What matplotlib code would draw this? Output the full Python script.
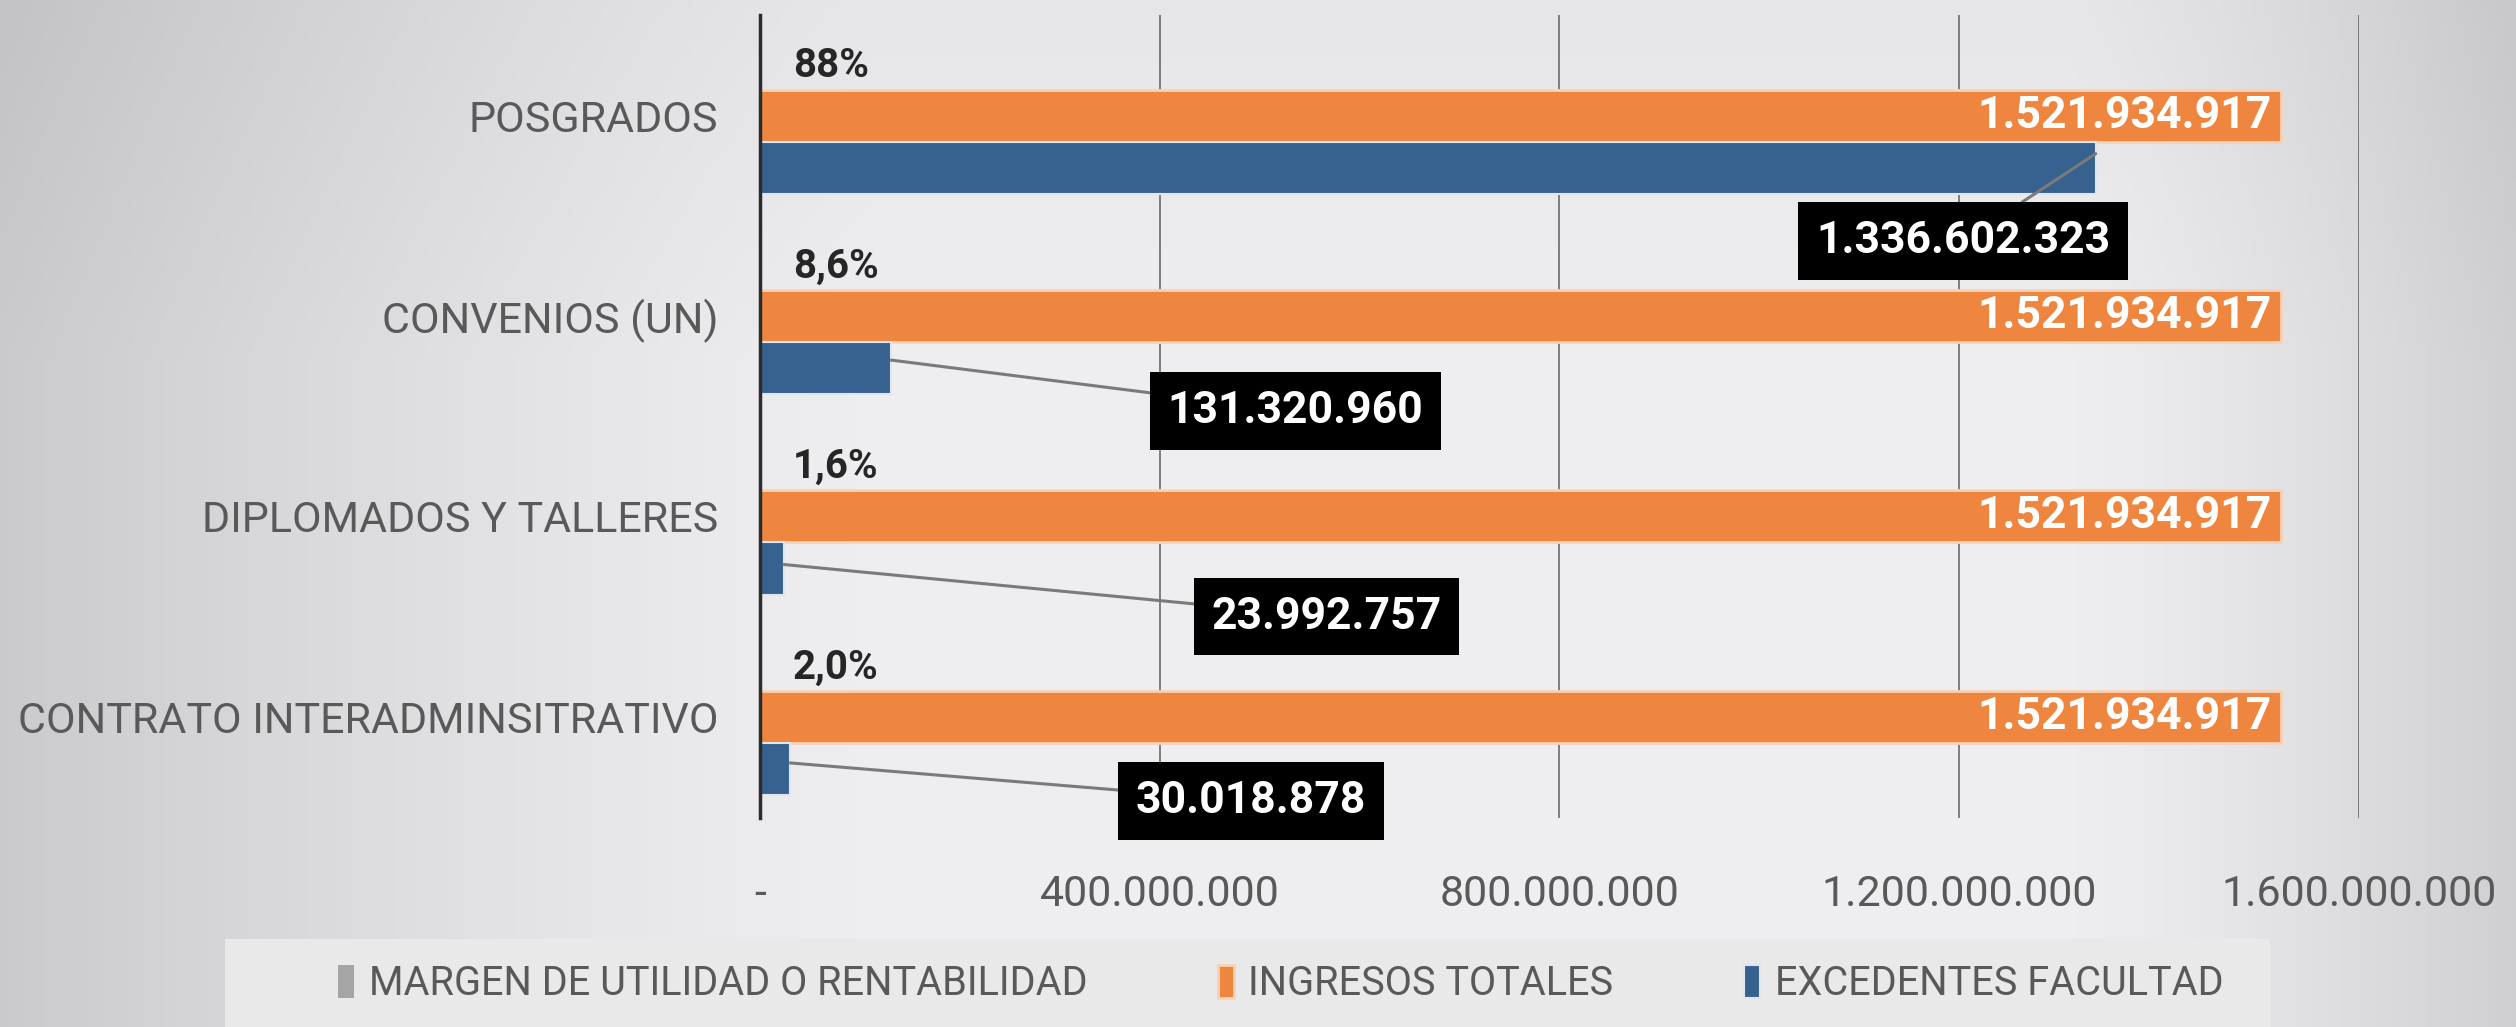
import matplotlib
matplotlib.use("Agg")
import matplotlib.pyplot as plt
import numpy as np
from matplotlib.ticker import FuncFormatter, FixedLocator
from matplotlib.patches import Rectangle

plt.rcParams["font.family"] = ["Roboto", "DejaVu Sans"]

categories = [
    "POSGRADOS",
    "CONVENIOS (UN)",
    "DIPLOMADOS Y TALLERES",
    "CONTRATO INTERADMINSITRATIVO",
]
margen = [0.878, 0.086, 0.016, 0.020]
margen_labels = ["88%", "8,6%", "1,6%", "2,0%"]
ingresos = [1521934917, 1521934917, 1521934917, 1521934917]
excedentes = [1336602323, 131320960, 23992757, 30018878]
x_ticks = [0, 400000000, 800000000, 1200000000, 1600000000]

GRAY = "#a5a5a5"
ORANGE = "#ee8640"
BLUE = "#37628f"
TXT = "#595959"


def fmt(v):
    return f"{v:,.0f}".replace(",", ".")


fig = plt.figure(figsize=(25.16, 10.27), dpi=100)

# background gradient (light in the middle, darker towards the edges)
bg = fig.add_axes([0, 0, 1, 1], zorder=-10)
gx = np.linspace(0, 1, 400)
shade = 0.935 - 0.14 * np.clip((0.35 - gx) / 0.35, 0, 1) ** 1.3 - 0.12 * np.clip((gx - 0.82) / 0.18, 0, 1) ** 1.3
gy = np.linspace(0, 1, 200)[:, None]
img = shade[None, :] - 0.03 * np.clip((0.35 - gy) / 0.35, 0, 1)
bg.imshow(np.dstack([img, img, img * 1.012]).clip(0, 1), aspect="auto", extent=[0, 1, 0, 1])
bg.axis("off")
bg.add_patch(Rectangle((140 / 1568, -0.05), (1415 - 140) / 1568, (640 - 585) / 640 + 0.05,
                       facecolor="#e9e9e9", edgecolor="none"))

ax = fig.add_axes([0.302, 0.2035, 0.9376 - 0.302, 0.985 - 0.2035])
ax.set_facecolor("none")

y = np.arange(len(categories))
h = 0.26
ax.barh(y - h, margen, height=h, color=GRAY, label="MARGEN DE UTILIDAD O RENTABILIDAD")
ax.barh(y, ingresos, height=h, color=ORANGE, edgecolor="#f8d2b6", linewidth=2,
        label="INGRESOS TOTALES")
ax.barh(y + h, excedentes, height=h, color=BLUE, edgecolor="#dfe6ee", linewidth=1.5,
        label="EXCEDENTES FACULTAD")

ax.set_xlim(0, 1.6e9)
ax.set_ylim(3.505, -0.5)
ax.set_yticks(y)
ax.set_yticklabels(categories)
ax.xaxis.set_major_locator(FixedLocator(x_ticks))
ax.xaxis.set_major_formatter(FuncFormatter(lambda v, p: "-" if v == 0 else fmt(v)))
ax.tick_params(axis="y", length=0, pad=30, labelsize=31, labelcolor=TXT)
ax.tick_params(axis="x", length=0, pad=40, labelsize=31, labelcolor=TXT)
ax.grid(axis="x", color="#6a6a6a", linewidth=1.2)
ax.set_axisbelow(True)
for s in ["top", "right", "bottom"]:
    ax.spines[s].set_visible(False)
ax.spines["left"].set_linewidth(2.5)
ax.spines["left"].set_color("#2b2b2b")

# percent labels
for i, lab in enumerate(margen_labels):
    ax.text(33e6, i - h * 0.95, lab, ha="left", va="center", fontsize=29,
            fontweight="bold", color="#262626")

# orange value labels
for i, v in enumerate(ingresos):
    ax.text(v - 9e6, i, fmt(v), ha="right", va="center",
            fontsize=32, fontweight="bold", color="white")

# callouts for blue bars
callout_pos = [(1204e6, 0.625), (536e6, 1.475), (567e6, 2.50), (491e6, 3.42)]
start_dy = [-0.07, -0.04, -0.02, -0.03]
for i, v in enumerate(excedentes):
    ax.annotate(
        fmt(v),
        xy=(v, i + h + start_dy[i]),
        xytext=callout_pos[i],
        ha="center", va="center", fontsize=32, fontweight="bold", color="white",
        bbox=dict(boxstyle="square,pad=0.4", facecolor="black", edgecolor="none"),
        arrowprops=dict(arrowstyle="-", color="#7a7a7a", lw=2.2, shrinkA=0, shrinkB=0),
    )

handles, labels = ax.get_legend_handles_labels()
leg = fig.legend(handles, labels, loc="center", bbox_to_anchor=(0.509, 0.042), ncol=3,
                 frameon=False, fontsize=28.5, handlelength=0.4, handleheight=0.9,
                 handletextpad=0.37, columnspacing=3.3, labelcolor=TXT)

fig.savefig("out.png", dpi=100)
